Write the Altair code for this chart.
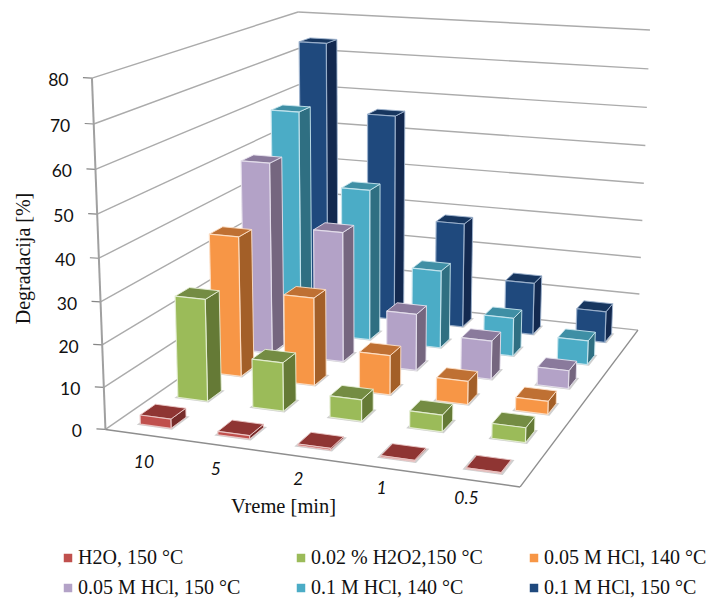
import altair as alt
import numpy as np
import pandas as pd

times = ["10", "5", "2", "1", "0.5"]
series = ["H2O, 150 °C", "0.02 % H2O2,150 °C", "0.05 M HCl, 140 °C",
          "0.05 M HCl, 150 °C", "0.1 M HCl, 140 °C", "0.1 M HCl, 150 °C"]
h2o = [2.2, 0.8, 0.4, 0.3, 0.2]
h2o2 = [25.0, 11.8, 5.2, 4.0, 3.5]
hcl_05_140 = [35.3, 22.0, 9.8, 5.7, 3.2]
hcl_05_150 = [49.5, 33.5, 14.5, 9.8, 4.5]
hcl_1_140 = [59.0, 40.0, 20.5, 10.0, 6.2]
hcl_1_150 = [74.0, 55.8, 28.3, 14.0, 8.3]
table = [h2o, h2o2, hcl_05_140, hcl_05_150, hcl_1_140, hcl_1_150]

front = ["#C0504D", "#9BBB59", "#F79646", "#B3A2C7", "#4BACC6", "#1F497D"]
side = ["#772C2A", "#657A36", "#A35F28", "#75667F", "#2F6F82", "#13294F"]
top = ["#8F3533", "#748C43", "#BF7033", "#8A7A9C", "#3F8FA5", "#17365F"]
edge = ["#EBC9C8", "#E6EED5", "#FDE0C8", "#E6E0EC", "#C8E6EE", "#9FB4CE"]
yticks = [0, 10, 20, 30, 40, 50, 60, 70, 80]
cat_dx = [0, -7, -6, -7, -9]
cat_dy = [28, 24, 23, 20, 18]
leg_col = [68, 301, 534]
leg_row = [558, 588]

W, H = 701, 592
HMAX = 80.0

# camera calibration of the 3D frame: (u, v, h) -> page pixel
frame_3d = [(0, 0, 0), (1, 0, 0), (1, 1, 0), (0, 0, 1), (0, 1, 1), (1, 1, 1)]
frame_2d = [(105.5, 429.5), (520, 487), (638, 330), (92, 78), (298, 12), (650, 30)]
A = []
for (u, v, h), (px, py) in zip(frame_3d, frame_2d):
    A.append([u, v, h, 1, 0, 0, 0, 0, -px * u, -px * v, -px * h, -px])
    A.append([0, 0, 0, 0, u, v, h, 1, -py * u, -py * v, -py * h, -py])
P = np.linalg.svd(np.array(A, float))[2][-1].reshape(3, 4)


def proj(u, v, val):
    r = P @ np.array([u, v, val / HMAX, 1.0])
    return float(r[0] / r[2]), float(r[1] / r[2])


rows, pid = [], 0


def poly(pts, fill, stroke="#ffffff", sw=0.0):
    global pid
    pid += 1
    for k, (x, y) in enumerate(pts + pts[:1]):
        rows.append(dict(pid=pid, k=k, x=x, y=y, fill=fill, stroke=stroke, sw=sw))


lines = []


def seg(a, b, color, w):
    i = len(lines)
    lines.append(dict(id=i, k=0, x=a[0], y=a[1], c=color, w=w))
    lines.append(dict(id=i, k=1, x=b[0], y=b[1], c=color, w=w))


GRID = "#ABABAB"
for t in yticks:
    seg(proj(0, 0, t), proj(0, 1, t), GRID, 1.4)
    seg(proj(0, 1, t), proj(1, 1, t), GRID, 1.4)
    a = proj(0, 0, t)
    seg((a[0] - 9, a[1] - 0.5), a, "#868686", 1.2)
seg(proj(0, 0, 0), proj(0, 0, 80), "#A0A0A0", 2.0)
seg(proj(0, 0, 0), proj(1, 0, 0), "#8E8E8E", 1.4)
seg(proj(1, 0, 0), proj(1, 1, 0), "#8E8E8E", 1.4)

nc, nr = len(times), len(series)
bw = 0.40
for r in range(nr - 1, -1, -1):
    for c in range(nc):
        val = table[r][c]
        u0 = (c + 0.5 - bw / 2) / nc
        u1 = (c + 0.5 + bw / 2) / nc
        v0 = (r + 0.5 - bw / 2) / nr
        v1 = (r + 0.5 + bw / 2) / nr
        m = 0.006
        poly([proj(u0 - m, v0 - m, 0), proj(u1 + m, v0 - m, 0), proj(u1 + m, v1 + m, 0), proj(u0 - m, v1 + m, 0)],
             "#CFCFCF")
        poly([proj(u1, v0, 0), proj(u1, v1, 0), proj(u1, v1, val), proj(u1, v0, val)], side[r], edge[r], 1.0)
        poly([proj(u0, v0, val), proj(u1, v0, val), proj(u1, v1, val), proj(u0, v1, val)], top[r], edge[r], 1.0)
        poly([proj(u0, v0, 0), proj(u1, v0, 0), proj(u1, v0, val), proj(u0, v0, val)], front[r], edge[r], 1.2)

# chart coordinates are page pixels
xs = alt.Scale(domain=[8, 8 + W], range=[0, W])
ys = alt.Scale(domain=[8, 8 + H], range=[0, H])
X = alt.X("x:Q", scale=xs, axis=None)
Y = alt.Y("y:Q", scale=ys, axis=None)

grid = alt.Chart(pd.DataFrame(lines)).mark_line(strokeCap="butt").encode(
    x=X, y=Y, detail="id:N", order="k:Q",
    stroke=alt.Stroke("c:N", scale=None), strokeWidth=alt.StrokeWidth("w:Q", scale=None))

faces = alt.Chart(pd.DataFrame(rows)).mark_line(strokeJoin="round", strokeOpacity=0.9).encode(
    x=X, y=Y, detail="pid:N", order="k:Q",
    fill=alt.Fill("fill:N", scale=None),
    stroke=alt.Stroke("stroke:N", scale=None),
    strokeWidth=alt.StrokeWidth("sw:Q", scale=None))

tick_df = pd.DataFrame([dict(x=proj(0, 0, t)[0] - 23.5, y=proj(0, 0, t)[1] + 3, t=str(t)) for t in yticks])
tick_text = alt.Chart(tick_df).mark_text(font="Lato", fontSize=17.5, align="right", baseline="middle",
                                         color="#111111").encode(x=X, y=Y, text="t:N")

cat_df = pd.DataFrame([dict(x=proj((c + 0.5) / nc, 0, 0)[0] + cat_dx[c],
                            y=proj((c + 0.5) / nc, 0, 0)[1] + cat_dy[c],
                            t=times[c]) for c in range(nc)])
cat_text = alt.Chart(cat_df).mark_text(font="Lato", fontSize=17.5, fontStyle="italic", align="center",
                                       baseline="middle", color="#111111").encode(x=X, y=Y, text="t:N")

xt = alt.Chart(pd.DataFrame([dict(x=283.5, y=507, t="Vreme [min]")])).mark_text(
    font="Liberation Serif", fontSize=20.5, align="center", baseline="middle", color="#111111").encode(
    x=X, y=Y, text="t:N")
yt = alt.Chart(pd.DataFrame([dict(x=24, y=258.5, t="Degradacija [%]")])).mark_text(
    font="Liberation Serif", fontSize=20, angle=270, align="center", baseline="middle", color="#111111").encode(
    x=X, y=Y, text="t:N")

leg_df = pd.DataFrame([dict(x=leg_col[i % 3], tx=leg_col[i % 3] + 10, y=leg_row[i // 3], s=series[i], f=front[i])
                       for i in range(len(series))])
leg_sq = alt.Chart(leg_df).mark_square(size=72, opacity=1).encode(x=X, y=Y, fill=alt.Fill("f:N", scale=None))
leg_tx = alt.Chart(leg_df).mark_text(font="Liberation Serif", fontSize=20, align="left", baseline="middle",
                                     color="#111111").encode(
    x=alt.X("tx:Q", scale=xs, axis=None), y=Y, text="s:N")

chart = alt.layer(grid, faces, tick_text, cat_text, xt, yt, leg_sq, leg_tx).properties(
    width=W, height=H, padding=0, autosize="none", background="white").configure_view(stroke=None)

chart.save("out.html", embed_options={"renderer": "svg", "actions": False})
